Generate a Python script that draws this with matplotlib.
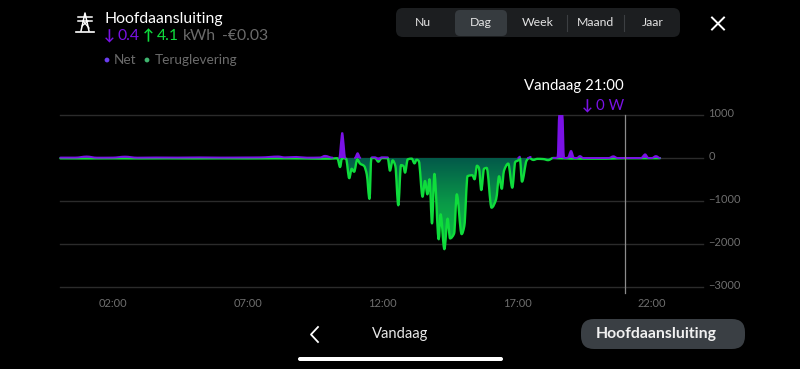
import matplotlib
matplotlib.use('Agg')
import matplotlib.pyplot as plt
import numpy as np
from matplotlib.colors import LinearSegmentedColormap
from matplotlib.patches import FancyBboxPatch, PathPatch, Circle
from matplotlib.path import Path
from matplotlib.transforms import ScaledTranslation

FONT = ['Lato', 'DejaVu Sans']
plt.rcParams['font.family'] = FONT

y_ticks = [1000, 0, -1000, -2000, -3000]
x_ticks = [2, 7, 12, 17, 22]
x_labels = ['02:00', '07:00', '12:00', '17:00', '22:00']
tabs = ['Nu', 'Dag', 'Week', 'Maand', 'Jaar']
cursor_hour = 21

feed_hours = [0.05, 1.0, 2.0, 3.0, 4.0, 5.0, 6.0, 7.0, 8.0, 9.0, 9.69, 10.06, 10.33, 10.43, 10.50, 10.65, 10.77, 10.86,
              10.95, 11.07, 11.17, 11.32, 11.42, 11.52, 11.59, 11.73, 11.85, 11.97, 12.2, 12.28, 12.38, 12.48, 12.59,
              12.69, 12.78, 12.84, 12.94, 13.09, 13.19, 13.27, 13.35, 13.49, 13.58, 13.67, 13.75, 13.84, 13.93, 14.09,
              14.16, 14.3, 14.42, 14.51, 14.66, 14.76, 14.94, 15.04, 15.16, 15.34, 15.42, 15.51, 15.58, 15.67, 15.77,
              15.87, 16.05, 16.22, 16.33, 16.43, 16.51, 16.67, 16.82, 16.93, 17.04, 17.1, 17.18, 17.35, 17.45, 17.6,
              17.75, 17.97, 18.15, 18.34, 18.5, 19.5, 20.3, 21.0, 22.3]
feed_watts = [-8, -10, -8, -10, -8, -10, -8, -10, -8, -10, -15, -15, -5, -210, -5, -15, -470, -250,
              -320, -30, -130, -185, -380, -950, 0, 0, -85, 0, -5, -295, -55, -185, -1100,
              -165, -185, -340, -30, -15, -125, -40, -70, -900, -535, -845, -495, -1520, -370, -1890,
              -1310, -2120, -1410, -1870, -1760, -845, -1770, -1580, -420, -400, -495, -180, -225, -745, -250,
              -230, -1155, -960, -425, -715, -300, -130, -690, -90, -55, 0, -550, -60, 0, -45,
              -20, -25, -50, 0, -5, -15, -15, -5, -5]

# net only shows where there is no feed in, nan breaks the line
net_hours = [0.05, 0.6, 1.03, 1.4, 2.0, 2.45, 2.9, 3.6, 4.4, 5.2, 6.0, 6.8, 7.5, 8.13, 8.38, 8.8, 9.2, 9.69, 9.87, 10.15, 10.36,
             10.40, 10.47, 10.51, 10.55, 10.62, 10.9, 10.98, 11.08, 11.18, 11.6,
             11.61, 11.73, 11.85, 11.97, 12.2, 17.0,
             17.04, 17.1, 17.2, 17.4, 17.5, 17.6, 18.34, 18.5, 18.56, 18.68, 18.74, 18.88, 19.0, 19.11, 19.22, 19.33,
             19.45, 20.4, 20.57, 20.72, 21.6, 21.75, 21.87, 22.0, 22.15, 22.3]
net_watts = [10, 10, 35, 8, 10, 32, 8, 12, 10, 14, 10, 12, 15, 35, 15, 25, 8, 12, 50, 8, np.nan,
             0, 400, 590, 400, 0, np.nan, 0, 110, 0, np.nan,
             15, 15, -30, 15, 15, np.nan,
             0, 30, np.nan, 0, 25, np.nan, 0, 10, 1000, 1000, 0, 5, 163, 0, 0, 45,
             0, 0, 40, 0, 0, 85, 0, 0, 45, 0]

purple = '#7a12e6'
green = '#0fdc3c'

# chart sits on the same pixels as the screenshot
W, H = 800, 369
fig = plt.figure(figsize=(W / 100, H / 100), dpi=100, facecolor='black')
ax = fig.add_axes([59 / W, 1 - 287 / H, (703 - 59) / W, (287 - 115) / H], facecolor='black')
ax.set_xlim(0, (703 - 59) / 26.95)
ax.set_ylim(-3000, 1000)


def smooth_path(xs, ys):
    # monotone cubic through the points, so the peaks stay on the values
    xs, ys = np.array(xs, float), np.array(ys, float)
    slopes = np.diff(ys) / np.diff(xs)
    tangents = np.zeros(len(xs))
    for i in range(1, len(xs) - 1):
        if slopes[i - 1] * slopes[i] > 0:
            tangents[i] = 2 * slopes[i - 1] * slopes[i] / (slopes[i - 1] + slopes[i])
    vertices = [(xs[0], ys[0])]
    codes = [Path.MOVETO]
    for i in range(len(xs) - 1):
        step = (xs[i + 1] - xs[i]) / 3
        vertices += [(xs[i] + step, ys[i] + tangents[i] * step),
                     (xs[i + 1] - step, ys[i + 1] - tangents[i + 1] * step),
                     (xs[i + 1], ys[i + 1])]
        codes += [Path.CURVE4] * 3
    return vertices, codes


for tick in y_ticks:
    ax.plot([0.04, 23.9], [tick, tick], color='#2b2b2b', lw=1, zorder=1, clip_on=False)

# gradient under the feed in curve
vertices, codes = smooth_path(feed_hours, feed_watts)
fill_path = Path(vertices + [(feed_hours[-1], 0), (feed_hours[0], 0), (feed_hours[0], 0)],
                 codes + [Path.LINETO, Path.LINETO, Path.CLOSEPOLY])
cmap = LinearSegmentedColormap.from_list('feed', ['#03584a', '#0a9a48', '#0cc040'])
image = ax.imshow(np.linspace(0, 1, 128).reshape(-1, 1), cmap=cmap, aspect='auto', zorder=2,
                  extent=(0, 23.9, -2150, 0), origin='upper')
image.set_clip_path(PathPatch(fill_path, transform=ax.transData))
ax.set_xlim(0, (703 - 59) / 26.95)
ax.set_ylim(-3000, 1000)

ax.add_patch(PathPatch(Path(vertices, codes), fc='none', ec=green, lw=1.7, zorder=3, joinstyle='round', capstyle='round'))

net_hours = np.array(net_hours)
net_watts = np.array(net_watts)
breaks = np.where(np.isnan(net_watts))[0]
start = 0
for stop in list(breaks) + [len(net_watts)]:
    if stop - start > 1:
        v, c = smooth_path(net_hours[start:stop], net_watts[start:stop])
        # filled so the narrow spikes come out solid
        ax.add_patch(PathPatch(Path(v, c), fc=purple, ec=purple, lw=1.4, zorder=4, capstyle='round'))
    start = stop + 1

ax.plot([cursor_hour, cursor_hour], [1000, -3130], color='#8c8c8c', lw=0.9, zorder=5, clip_on=False)

for side in ax.spines.values():
    side.set_visible(False)
ax.yaxis.tick_right()
ax.set_yticks(y_ticks)
ax.set_xticks(x_ticks)
ax.set_xticklabels(x_labels)
ax.tick_params(length=0, labelsize=8, labelcolor='#6e6e6e')
ax.tick_params(axis='x', pad=8)
ax.tick_params(axis='y', pad=4)
# y labels sit a bit above their grid line
for tick_label in ax.get_yticklabels():
    tick_label.set_transform(tick_label.get_transform() + ScaledTranslation(0, 2.3 / 100, fig.dpi_scale_trans))

# app chrome, in screenshot pixels
ui = fig.add_axes([0, 0, 1, 1], facecolor='none', zorder=10)
ui.set_xlim(0, W)
ui.set_ylim(H, 0)
ui.axis('off')


def label(x, y, s, color='white', size=10, ha='left', **kw):
    ui.text(x, y + 1, s, color=color, fontsize=size, ha=ha, va='center', family=FONT, **kw)


def box(x0, y0, x1, y1, radius, color):
    ui.add_patch(FancyBboxPatch((x0 + radius, y0 + radius), x1 - x0 - 2 * radius, y1 - y0 - 2 * radius,
                                boxstyle='round,pad=%d,rounding_size=%d' % (radius, radius), fc=color, ec='none'))


# pylon icon
ui.plot([76, 94], [31.5, 31.5], color='white', lw=1.2)
ui.plot([78, 92], [17, 17], color='white', lw=1.1)
ui.plot([78, 92], [21, 21], color='white', lw=1.1)
ui.plot([81, 85, 89], [31, 13, 31], color='white', lw=1.1)
ui.plot([82, 88], [26, 21], color='white', lw=0.9)
ui.plot([83, 89], [21, 28], color='white', lw=0.9)

label(104, 17.5, 'Hoofdaansluiting', size=11.3)
label(104, 35, '↓', purple, 10.5, fontweight='bold')
label(118, 35, '0.4', purple, 11.3)
label(143, 35, '↑', green, 10.5, fontweight='bold')
label(157, 35, '4.1', green, 11.3)
label(183, 35, 'kWh', '#6b6b6b', 11.3)
label(222, 35, '-€0.03', '#6b6b6b', 11.3)

ui.add_patch(Circle((107, 60), 2.4, fc='#6a3df0', ec='none'))
label(114, 59, 'Net', '#6b6b6b', 9.8)
ui.add_patch(Circle((147, 60), 2.4, fc='#3fb56f', ec='none'))
label(155, 59, 'Teruglevering', '#6b6b6b', 9.8)

box(396, 8, 680, 37, 7, '#1c1e20')
box(455, 10, 507, 36, 5, '#363b3f')
for x in [566.5, 624]:
    ui.plot([x, x], [15, 31], color='#3c3f42', lw=0.8)
for x, name in zip([423, 481, 538, 595, 653], tabs):
    label(x, 22, name, '#e4e4e4', 8.8, ha='center')

ui.plot([712, 724], [17.5, 29.5], color='white', lw=1.4)
ui.plot([712, 724], [29.5, 17.5], color='white', lw=1.4)

label(624, 85, 'Vandaag 21:00', 'white', 10.8, ha='right')
label(624, 105, '0 W', purple, 10.8, ha='right')
label(582, 105, '↓', purple, 10.5, fontweight='bold')

ui.plot([318, 311, 318], [327, 334.5, 342], color='white', lw=1.3)
label(400, 333, 'Vandaag', '#e8e8e8', 10.6, ha='center')
box(581, 319, 745, 349, 13, '#3a3f44')
label(656, 333, 'Hoofdaansluiting', '#f0f0f0', 11.3, ha='center', fontweight='bold')
box(298, 357, 503, 361, 2, 'white')

fig.savefig('out.png', dpi=100, facecolor='black')
